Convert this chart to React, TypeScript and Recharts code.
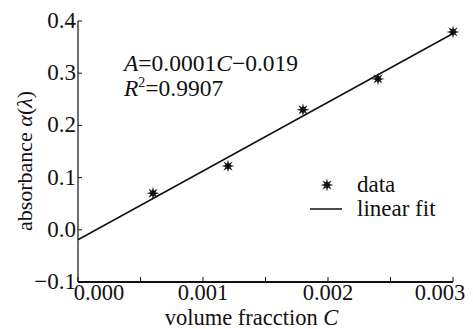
import { ComposedChart, Line, Scatter, XAxis, YAxis, Label } from "recharts";

// measured points (volume fraction vs absorbance)
const volumeFraction = [0.0006, 0.0012, 0.0018, 0.0024, 0.003];
const absorbance = [0.07, 0.122, 0.23, 0.289, 0.379];

// fitted line A = slope*C - 0.019, endpoints
const fitC = [0, 0.003];
const fitA = [-0.019, 0.376];

const xTicks = [0, 0.0005, 0.001, 0.0015, 0.002, 0.0025, 0.003];
const yTicks = [-0.1, 0, 0.1, 0.2, 0.3, 0.4];

const FONT = "Liberation Serif";
const INK = "#111";

const dataPoints = volumeFraction.map((c, i) => ({ c, a: absorbance[i] }));
const fitPoints = fitC.map((c, i) => ({ c, a: fitA[i] }));

function starPath(cx: number, cy: number, outer = 6.5, inner = 2.6, n = 8) {
  let d = "";
  for (let i = 0; i < n * 2; i++) {
    const r = i % 2 === 0 ? outer : inner;
    const ang = (Math.PI * i) / n - Math.PI / 2;
    d += (i === 0 ? "M" : "L") + (cx + r * Math.cos(ang)).toFixed(2) + "," + (cy + r * Math.sin(ang)).toFixed(2);
  }
  return d + "Z";
}

const StarMark = (props: any) => <path d={starPath(props.cx, props.cy)} fill={INK} />;

const XTick = (props: any) => {
  const { x, y, payload, index } = props;
  const v = payload.value as number;
  const major = Math.abs(v * 1000 - Math.round(v * 1000)) < 1e-6;
  // first and last labels sit nudged inward, as in the source figure
  let lx = x;
  if (index === 0) lx = x + 21;
  if (index === xTicks.length - 1) lx = x - 13;
  return (
    <g>
      <line x1={x} x2={x} y1={y} y2={y - 5} stroke={INK} strokeWidth={1} />
      {major && (
        <text x={lx} y={y + 18} textAnchor="middle" fontFamily={FONT} fontSize={22.5} fill={INK}>
          {v.toFixed(3)}
        </text>
      )}
    </g>
  );
};

const YTick = (props: any) => {
  const { x, y, payload } = props;
  const v = payload.value as number;
  const label = v < 0 ? "\u2212" + Math.abs(v).toFixed(1) : v.toFixed(1);
  return (
    <g>
      <line x1={x} x2={x + 4} y1={y} y2={y} stroke={INK} strokeWidth={1} />
      <text x={x - 2} y={y + 7} textAnchor="end" fontFamily={FONT} fontSize={23} fill={INK}>
        {label}
      </text>
    </g>
  );
};

export default function App() {
  return (
    <div style={{ position: "absolute", left: 0, top: 0, background: "#fff" }}>
      <ComposedChart width={473} height={329} margin={{ top: 21, right: 20, bottom: 0, left: 0 }}>
        <XAxis
          type="number"
          dataKey="c"
          domain={[0, 0.003]}
          ticks={xTicks}
          interval={0}
          tick={<XTick />}
          tickSize={0}
          tickMargin={0}
          tickLine={false}
          axisLine={{ stroke: INK, strokeWidth: 2 }}
          height={47}
        >
          <Label
            content={({ viewBox }: any) => (
              <text
                x={viewBox.x + viewBox.width / 2 - 14}
                y={viewBox.y + 43}
                textAnchor="middle"
                fontFamily={FONT}
                fontSize={22.5}
                fill={INK}
              >
                volume fracction <tspan fontStyle="italic">C</tspan>
              </text>
            )}
          />
        </XAxis>
        <YAxis
          type="number"
          dataKey="a"
          domain={[-0.1, 0.4]}
          ticks={yTicks}
          interval={0}
          tick={<YTick />}
          tickSize={0}
          tickMargin={0}
          tickLine={false}
          axisLine={{ stroke: INK, strokeWidth: 1.2 }}
          width={78}
        >
          <Label
            content={() => (
              <text
                x={0}
                y={0}
                transform="translate(32,161) rotate(-90)"
                textAnchor="middle"
                fontFamily={FONT}
                fontSize={22}
                fill={INK}
              >
                absorbance <tspan fontStyle="italic">α</tspan>(<tspan fontStyle="italic">λ</tspan>)
              </text>
            )}
          />
        </YAxis>
        <Line
          data={fitPoints}
          dataKey="a"
          type="linear"
          stroke={INK}
          strokeWidth={1.5}
          dot={false}
          activeDot={false}
          isAnimationActive={false}
        />
        <Scatter data={dataPoints} dataKey="a" shape={<StarMark />} isAnimationActive={false} />

        <text x={124} y={71} fontFamily={FONT} fontSize={23.5} fill={INK}>
          <tspan fontStyle="italic">A</tspan>=0.0001<tspan fontStyle="italic">C</tspan>−0.019
        </text>
        <text x={124} y={96} fontFamily={FONT} fontSize={23.5} fill={INK}>
          <tspan fontStyle="italic">R</tspan>
          <tspan fontSize={14} dy={-9}>2</tspan>
          <tspan dy={9}>=0.9907</tspan>
        </text>

        <path d={starPath(327, 185)} fill={INK} />
        <text x={357} y={192} fontFamily={FONT} fontSize={23} fill={INK}>data</text>
        <line x1={310} x2={342} y1={209} y2={209} stroke={INK} strokeWidth={1.5} />
        <text x={357} y={216} fontFamily={FONT} fontSize={23} fill={INK}>linear fit</text>
      </ComposedChart>
    </div>
  );
}
